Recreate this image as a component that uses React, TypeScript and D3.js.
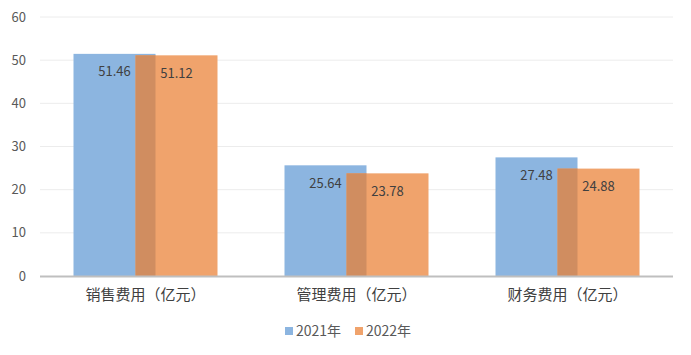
import React from "react";
import * as d3 from "d3";

const categories = ["销售费用（亿元）", "管理费用（亿元）", "财务费用（亿元）"];
const seriesNames = ["2021年", "2022年"];
const values2021 = [51.46, 25.64, 27.48];
const values2022 = [51.12, 23.78, 24.88];
const yTicks = [0, 10, 20, 30, 40, 50, 60];

const W = 691;
const H = 355;
const colors = ["#8cb5e0", "#f0a36c"];
const overlapColor = "#d08d60";
const FONT = "'Noto Sans CJK SC', 'Microsoft YaHei', sans-serif";

export default function App() {
  const left = 40, right = 673, top = 17, bottom = 276;
  const x = d3.scaleBand<string>().domain(categories).range([left, right]).padding(0);
  const y = d3.scaleLinear().domain([0, 60]).range([bottom, top]);
  const barW = 82;
  const overlap = 20;
  const series = [values2021, values2022];

  return (
    <svg width={W} height={H} style={{ position: "absolute", left: 0, top: 0, background: "#fff" }}>
      {yTicks.map((t) => (
        <g key={t}>
          {t !== 0 && (
            <line x1={left} x2={right} y1={y(t)} y2={y(t)} stroke="#ececec" strokeWidth={1} />
          )}
          <text x={26} y={y(t)} dy="0.35em" textAnchor="end" fontSize={13} fill="#595959" fontFamily={FONT}>
            {t}
          </text>
        </g>
      ))}
      {categories.map((c, i) => {
        const cx = (x(c) as number) + x.bandwidth() / 2;
        const groupW = barW * 2 - overlap;
        const x0 = cx - groupW / 2;
        const minV = Math.min(values2021[i], values2022[i]);
        return (
          <g key={c}>
            {series.map((vals, s) => {
              const bx = x0 + s * (barW - overlap);
              return (
                <rect
                  key={s}
                  x={bx}
                  y={y(vals[i])}
                  width={barW}
                  height={bottom - y(vals[i])}
                  fill={colors[s]}
                />
              );
            })}
            <rect
              x={x0 + barW - overlap}
              y={y(minV)}
              width={overlap}
              height={bottom - y(minV)}
              fill={overlapColor}
            />
            {series.map((vals, s) => {
              const bx = x0 + s * (barW - overlap);
              return (
                <text
                  key={"l" + s}
                  x={bx + barW / 2}
                  y={y(vals[i]) + 18}
                  dy="0.35em"
                  textAnchor="middle"
                  fontSize={13}
                  fill="#404040"
                  fontFamily={FONT}
                >
                  {vals[i].toFixed(2)}
                </text>
              );
            })}
            <text x={cx} y={295} dy="0.35em" textAnchor="middle" fontSize={15} fill="#404040" fontFamily={FONT}>
              {c}
            </text>
          </g>
        );
      })}
      <line x1={left} x2={right} y1={bottom + 0.5} y2={bottom + 0.5} stroke="#bfbfbf" strokeWidth={2} />
      {seriesNames.map((n, s) => {
        const lx = 285 + s * 70;
        return (
          <g key={n}>
            <rect x={lx} y={327} width={8} height={8} fill={colors[s]} />
            <text x={lx + 11} y={331} dy="0.35em" fontSize={14} fill="#595959" fontFamily={FONT}>
              {n}
            </text>
          </g>
        );
      })}
    </svg>
  );
}
